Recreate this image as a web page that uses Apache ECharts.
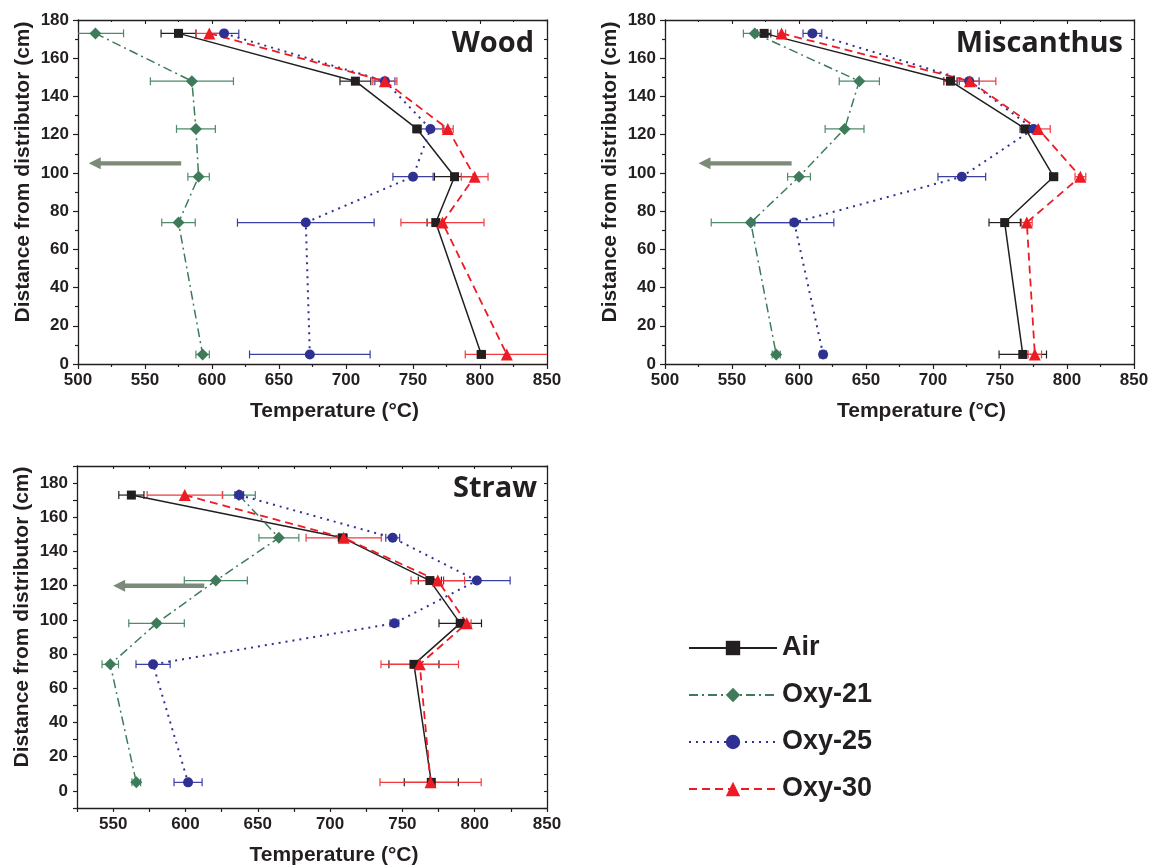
<!DOCTYPE html>
<html><head><meta charset="utf-8">
<script src="https://cdn.jsdelivr.net/npm/echarts@6/dist/echarts.min.js"></script>
<style>html,body{margin:0;padding:0;background:#fff}#c{width:1153px;height:867px}</style>
</head><body><div id="c"></div>
<script>
// ---------- data ----------
const heights = [173, 148, 123, 98, 74, 5];           // distance from distributor (cm)
const seriesNames = ['Air', 'Oxy-21', 'Oxy-25', 'Oxy-30'];
const panelTitles = ['Wood', 'Miscanthus', 'Straw'];

// Wood: temperatures (°C) and error half-widths
const woodAir    = [575, 707, 753, 781, 767, 801];
const woodAirErr = [13, 11.5, 3, 15, 6.5, 3];
const woodO21    = [513, 585, 588, 590, 575, 593];
const woodO21Err = [21, 31, 14.5, 8, 12.5, 5];
const woodO25    = [609, 729, 763, 750, 670, 673];
const woodO25Err = [11, 7.5, 10, 15, 51, 45];
const woodO30    = [598, 729, 776, 796, 772, 820];
const woodO30Err = [10, 9, 4, 10, 31, 31];

// Miscanthus
const miscAir    = [574, 713, 769, 790, 753.5, 767];
const miscAirErr = [5, 5, 4, 3, 11.7, 17.7];
const miscO21    = [567, 645, 634, 600, 564, 583];
const miscO21Err = [8.5, 15, 14.5, 8.5, 29.5, 3];
const miscO25    = [610, 727, 775, 721.5, 596.5, 618];
const miscO25Err = [7, 7.4, 4, 17.8, 29.5, 2.5];
const miscO30    = [587, 727.5, 778.5, 810, 770, 776];
const miscO30Err = [3, 19.4, 9, 4, 4, 5];

// Straw
const strawAir    = [562.6, 708.7, 769, 790, 758, 770];
const strawAirErr = [8.7, 3, 8, 14.7, 17.3, 18.7];
const strawO21    = [637, 664.6, 621, 580, 548, 566];
const strawO21Err = [11.3, 13.8, 21.8, 19.2, 5.7, 3];
const strawO25    = [637.2, 743.3, 801.5, 744.5, 577.6, 601.8];
const strawO25Err = [3, 4.8, 23, 3, 11.8, 9.7];
const strawO30    = [599.5, 709.4, 774.5, 794.5, 762, 769.5];
const strawO30Err = [26, 26, 18.5, 3, 26.8, 35];

// arrows: [x start, y, x tip]
const woodArrow  = [577, 105, 508];
const miscArrow  = [594.5, 105, 525];
const strawArrow = [613, 120, 550];

// axis ranges
const xRangeWide  = [500, 850];
const xRangeStraw = [525, 850];
const yRangeWide  = [0, 180];
const yRangeStraw = [-10, 190];

// ---------- styles ----------
const INK = '#231f20';
const FONT = 'Liberation Sans, Arial, sans-serif';
const lineColors = ['#231f20', '#3e7b5b', '#2e3192', '#ed1c24'];
const errColors  = ['#231f20', '#4f8a6a', '#3a3fa0', '#ef3b3f'];
const symbols = ['rect', 'diamond', 'circle', 'triangle'];
const symbolSizes = [9, 12, 10, 12];
const lineTypes = ['solid', [9, 4, 2, 4], [2, 5], [8, 5]];
const lineWidths = [1.5, 1.5, 2, 1.8];
const ARROW = '#7b8b77';

const panels = [
  { temps: [woodAir, woodO21, woodO25, woodO30], errs: [woodAirErr, woodO21Err, woodO25Err, woodO30Err], arrow: woodArrow,
    grid: { left: 78, top: 20, width: 469, height: 344 }, xr: xRangeWide, yr: yRangeWide, title: { right: 619, top: 29 } },
  { temps: [miscAir, miscO21, miscO25, miscO30], errs: [miscAirErr, miscO21Err, miscO25Err, miscO30Err], arrow: miscArrow,
    grid: { left: 665, top: 20, width: 469, height: 344 }, xr: xRangeWide, yr: yRangeWide, title: { right: 30, top: 29 } },
  { temps: [strawAir, strawO21, strawO25, strawO30], errs: [strawAirErr, strawO21Err, strawO25Err, strawO30Err], arrow: strawArrow,
    grid: { left: 77, top: 466, width: 470, height: 344 }, xr: xRangeStraw, yr: yRangeStraw, title: { right: 616, top: 474 } }
];

function errRender(params, api) {
  const x = api.value(0), y = api.value(1), e = api.value(2);
  const a = api.coord([x - e, y]), b = api.coord([x + e, y]);
  const h = 4;
  const style = { stroke: api.visual('color'), lineWidth: 1.2, fill: null };
  return { type: 'group', children: [
    { type: 'line', shape: { x1: a[0], y1: a[1], x2: b[0], y2: b[1] }, style },
    { type: 'line', shape: { x1: a[0], y1: a[1] - h, x2: a[0], y2: a[1] + h }, style },
    { type: 'line', shape: { x1: b[0], y1: b[1] - h, x2: b[0], y2: b[1] + h }, style }
  ]};
}
function arrowRender(params, api) {
  const p1 = api.coord([api.value(0), api.value(1)]);
  const p2 = api.coord([api.value(2), api.value(1)]);
  const hl = 12, hh = 6, sw = 4.4;
  return { type: 'group', children: [
    { type: 'rect', shape: { x: p2[0] + hl - 1, y: p1[1] - sw / 2, width: p1[0] - p2[0] - hl + 1, height: sw }, style: { fill: ARROW } },
    { type: 'polygon', shape: { points: [[p2[0], p2[1]], [p2[0] + hl, p2[1] - hh], [p2[0] + hl, p2[1] + hh]] }, style: { fill: ARROW } }
  ]};
}

const labelStyle = { color: INK, fontFamily: FONT, fontWeight: 'bold', fontSize: 17 };
const axisLine = { show: true, onZero: false, lineStyle: { color: INK, width: 1.3 } };

const grids = [], xAxes = [], yAxes = [], series = [], titles = [];
panels.forEach((p, i) => {
  grids.push(Object.assign({ containLabel: false }, p.grid));
  const straw = i === 2;
  xAxes.push({
    type: 'value', gridIndex: i, position: 'bottom', min: p.xr[0], max: p.xr[1], interval: straw ? 25 : 50,
    axisLine, splitLine: { show: false },
    axisTick: { show: true, inside: false, length: straw ? 4 : 5, lineStyle: { color: INK, width: 1.2 } },
    minorTick: { show: !straw, splitNumber: 2, length: 3, lineStyle: { color: INK, width: 1.2 } },
    axisLabel: Object.assign({ margin: 8, formatter: v => (v % 50 === 0 ? String(v) : '') }, labelStyle),
    name: 'Temperature (°C)', nameLocation: 'middle', nameGap: 37,
    nameTextStyle: { color: INK, fontFamily: FONT, fontWeight: 'bold', fontSize: 21, padding: [0, 0, 0, 44] }
  });
  xAxes.push({
    type: 'value', gridIndex: i, position: 'top', min: p.xr[0], max: p.xr[1], interval: straw ? 25 : 50,
    axisLine, splitLine: { show: false }, axisLabel: { show: false },
    axisTick: { show: true, inside: true, length: straw ? 3 : 4, lineStyle: { color: INK, width: 1.1 } },
    minorTick: { show: !straw, splitNumber: 2, length: 2, lineStyle: { color: INK, width: 1.1 } }
  });
  yAxes.push({
    type: 'value', gridIndex: i, position: 'left', min: p.yr[0], max: p.yr[1], interval: straw ? 10 : 20,
    axisLine, splitLine: { show: false },
    axisTick: { show: true, inside: false, length: straw ? 4 : 5, lineStyle: { color: INK, width: 1.2 } },
    minorTick: { show: !straw, splitNumber: 2, length: 3, lineStyle: { color: INK, width: 1.2 } },
    axisLabel: Object.assign({ margin: 9, formatter: v => ((v % 20 === 0 && v >= 0 && v <= 180) ? String(v) : '') }, labelStyle),
    name: 'Distance from distributor (cm)', nameLocation: 'middle', nameGap: 44,
    nameTextStyle: { color: INK, fontFamily: FONT, fontWeight: 'bold', fontSize: 21, padding: [0, 0, 0, 40] }
  });
  yAxes.push({
    type: 'value', gridIndex: i, position: 'right', min: p.yr[0], max: p.yr[1], interval: straw ? 10 : 20,
    axisLine, splitLine: { show: false }, axisLabel: { show: false },
    axisTick: { show: true, inside: true, length: 3, lineStyle: { color: INK, width: 1.1 } },
    minorTick: { show: !straw, splitNumber: 2, length: 3, lineStyle: { color: INK, width: 1.1 } }
  });

  seriesNames.forEach((name, k) => {
    series.push({
      type: 'custom', name: name + ' err', xAxisIndex: 2 * i, yAxisIndex: 2 * i, clip: true, z: 2,
      itemStyle: { color: errColors[k] }, renderItem: errRender,
      encode: { x: 0, y: 1 },
      data: p.temps[k].map((t, j) => [t, heights[j], p.errs[k][j]])
    });
  });
  seriesNames.forEach((name, k) => {
    series.push({
      type: 'line', name, xAxisIndex: 2 * i, yAxisIndex: 2 * i, z: 3,
      symbol: symbols[k], symbolSize: symbolSizes[k], showAllSymbol: true,
      itemStyle: { color: lineColors[k] },
      lineStyle: { color: lineColors[k], width: lineWidths[k], type: lineTypes[k] },
      data: p.temps[k].map((t, j) => [t, heights[j]])
    });
  });
  series.push({
    type: 'custom', name: 'arrow' + i, xAxisIndex: 2 * i, yAxisIndex: 2 * i, z: 4, renderItem: arrowRender,
    encode: { x: [0, 2], y: 1 }, data: [p.arrow]
  });
  titles.push({
    text: panelTitles[i], right: p.title.right, top: p.title.top, padding: 0,
    textStyle: { fontFamily: 'Open Sans, sans-serif', fontWeight: 'bold', fontSize: 29, color: INK }
  });
});

const chart = echarts.init(document.getElementById('c'), null, { renderer: 'canvas' });
chart.setOption({
  animation: false,
  backgroundColor: '#ffffff',
  title: titles,
  grid: grids, xAxis: xAxes, yAxis: yAxes, series,
  legend: {
    data: seriesNames, orient: 'vertical', left: 688, top: 633, padding: 0,
    itemWidth: 88, itemHeight: 18, itemGap: 17, selectedMode: false,
    textStyle: { fontSize: 27, fontWeight: 'bold', fontFamily: FONT, color: INK, lineHeight: 30 }
  }
});
</script></body></html>
